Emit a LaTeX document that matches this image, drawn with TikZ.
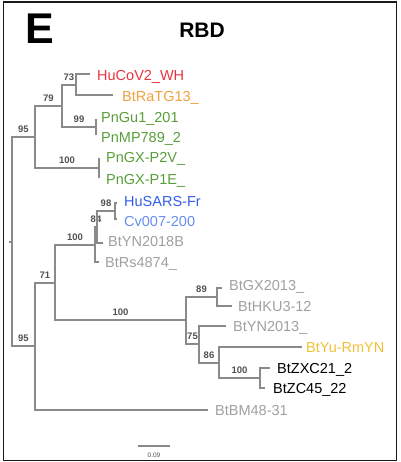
\documentclass[tikz,border=0pt]{standalone}
\usepackage{fontspec}
\setmainfont{Liberation Sans}
\definecolor{treegray}{RGB}{138,138,138}
\definecolor{bootgray}{RGB}{80,80,80}
\definecolor{cred}{RGB}{232,52,62}
\definecolor{corange}{RGB}{240,160,62}
\definecolor{cgreen}{RGB}{88,158,58}
\definecolor{cblue}{RGB}{50,92,232}
\definecolor{clblue}{RGB}{102,142,240}
\definecolor{cgray}{RGB}{160,160,160}
\definecolor{cyellow}{RGB}{240,192,52}
\begin{document}
\begin{tikzpicture}[x=1pt,y=-1pt,
  br/.style={draw=treegray,line width=1.1pt},
  boot/.style={font=\fontsize{9.5}{10}\selectfont\bfseries,text=bootgray,inner sep=0pt,above=4pt,pos=0.75},
  leaf/.style={anchor=base west,inner sep=0pt,yshift=-5.2pt,font=\fontsize{14.5}{15}\selectfont}]
\useasboundingbox (0,0) rectangle (400,462);
\draw[line width=1.8pt,draw=black!90] (3.5,2) rectangle (396.5,460.5);
% titles
\node[anchor=base west,inner sep=0pt,font=\fontsize{43}{44}\selectfont\bfseries] (ttlE) at (25,44) {E};
\node[anchor=base,inner sep=0pt,font=\fontsize{21}{22}\selectfont\bfseries] (ttl) at (202,38) {RBD};
% internal nodes
\coordinate (rs) at (9,242);
\coordinate (root) at (12,242);
\coordinate (A) at (35,137);
\coordinate (n79) at (62,106);
\coordinate (n73) at (76,85);
\coordinate (n99) at (96,127);
\coordinate (nP) at (99,168);
\coordinate (B) at (35,346);
\coordinate (n71) at (55,283);
\coordinate (nS) at (95,245);
\coordinate (n84) at (97,227);
\coordinate (n98) at (115,211);
\coordinate (nG) at (186,320);
\coordinate (n89) at (217,297);
\coordinate (n75) at (199,344);
\coordinate (n86) at (219,363);
\coordinate (nZ) at (260,378);
% tips
\coordinate (t1) at (90,74);
\coordinate (t2) at (113,95);
\coordinate (t3) at (96,119);
\coordinate (t4) at (96,135);
\coordinate (t5) at (99,158);
\coordinate (t6) at (99,178);
\coordinate (t7) at (117,203);
\coordinate (t8) at (117,219);
\coordinate (t9) at (103,243);
\coordinate (t10) at (99,262);
\coordinate (t11) at (222,288);
\coordinate (t12) at (232,306);
\coordinate (t13) at (226,326);
\coordinate (t14) at (302,347);
\coordinate (t15) at (270,368);
\coordinate (t16) at (265,388);
\coordinate (t17) at (208,410);
% labels
\node[leaf,text=cred] (l1) at (97,75) {HuCoV2\_WH};
\node[leaf,text=corange] (l2) at (122,96) {BtRaTG13\_};
\node[leaf,text=cgreen] (l3) at (101,117) {PnGu1\_201};
\node[leaf,text=cgreen] (l4) at (101,137) {PnMP789\_2};
\node[leaf,text=cgreen] (l5) at (106,157) {PnGX-P2V\_};
\node[leaf,text=cgreen] (l6) at (106,179) {PnGX-P1E\_};
\node[leaf,text=cblue] (l7) at (124,201) {HuSARS-Fr};
\node[leaf,text=clblue] (l8) at (124,221) {Cv007-200};
\node[leaf,text=cgray] (l9) at (108,241) {BtYN2018B};
\node[leaf,text=cgray] (l10) at (105,262) {BtRs4874\_};
\node[leaf,text=cgray] (l11) at (229,285) {BtGX2013\_};
\node[leaf,text=cgray] (l12) at (238,306) {BtHKU3-12};
\node[leaf,text=cgray] (l13) at (233,326) {BtYN2013\_};
\node[leaf,text=cyellow] (l14) at (306,347) {BtYu-RmYN};
\node[leaf,text=black] (l15) at (277,368) {BtZXC21\_2};
\node[leaf,text=black] (l16) at (273,388) {BtZC45\_22};
\node[leaf,text=cgray] (l17) at (215,410) {BtBM48-31};
% branches
\draw[br] (rs) -- (root);
\draw[br] (root) |- node[boot]{95} (A);
\draw[br] (root) |- node[boot]{95} (B);
\draw[br] (A) |- node[boot]{79} (n79);
\draw[br] (A) |- node[boot]{100} (nP);
\draw[br] (n79) |- node[boot]{73} (n73);
\draw[br] (n79) |- node[boot]{99} (n99);
\draw[br] (n73) |- (t1);
\draw[br] (n73) |- (t2);
\draw[br] (n99) |- (t3);
\draw[br] (n99) |- (t4);
\draw[br] (nP) |- (t5);
\draw[br] (nP) |- (t6);
\draw[br] (B) |- node[boot]{71} (n71);
\draw[br] (B) |- (t17);
\draw[br] (n71) |- node[boot]{100} (nS);
\draw[br] (n71) |- node[boot]{100} (nG);
\draw[br] (nS) |- node[boot]{84} (n84);
\draw[br] (nS) |- (t10);
\draw[br] (n84) |- node[boot]{98} (n98);
\draw[br] (n84) |- (t9);
\draw[br] (n98) |- (t7);
\draw[br] (n98) |- (t8);
\draw[br] (nG) |- node[boot]{89} (n89);
\draw[br] (nG) |- node[boot]{75} (n75);
\draw[br] (n89) |- (t11);
\draw[br] (n89) |- (t12);
\draw[br] (n75) |- (t13);
\draw[br] (n75) |- node[boot]{86} (n86);
\draw[br] (n86) |- (t14);
\draw[br] (n86) |- node[boot]{100} (nZ);
\draw[br] (nZ) |- (t15);
\draw[br] (nZ) |- (t16);
% scale bar
\coordinate (sb1) at (138,446);
\coordinate (sb2) at (170,446);
\draw[br] (sb1) -- node[below=6pt,inner sep=0pt,font=\fontsize{6.5}{7}\selectfont,text=bootgray] (sbl) {0.09} (sb2);
\end{tikzpicture}
\end{document}
